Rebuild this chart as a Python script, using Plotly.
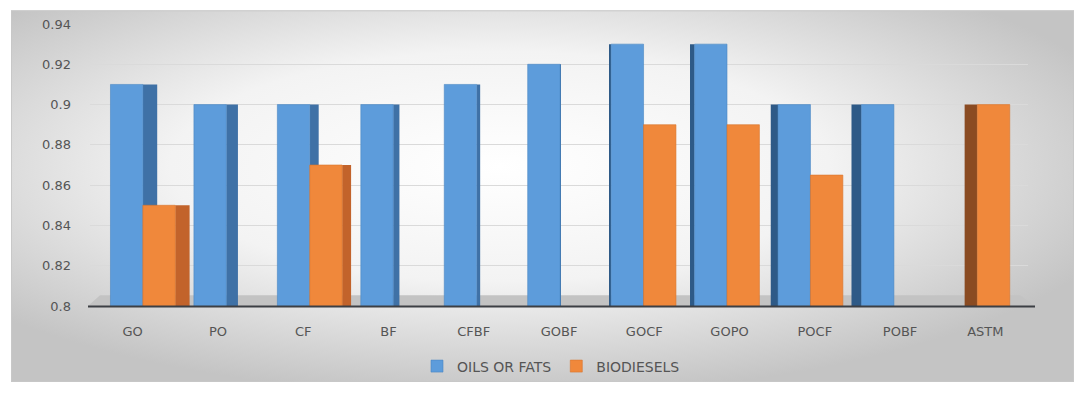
import base64
import plotly.graph_objects as go

categories = ['GO', 'PO', 'CF', 'BF', 'CFBF', 'GOBF', 'GOCF', 'GOPO', 'POCF', 'POBF', 'ASTM']
oils_or_fats = [0.91, 0.90, 0.90, 0.90, 0.91, 0.92, 0.93, 0.93, 0.90, 0.90, None]
biodiesels = [0.85, None, 0.87, None, None, None, 0.89, 0.89, 0.865, None, 0.90]
y_ticks = [0.8, 0.82, 0.84, 0.86, 0.88, 0.9, 0.92, 0.94]
y_tick_labels = ['0.8', '0.82', '0.84', '0.86', '0.88', '0.9', '0.92', '0.94']

# --- pseudo-3D geometry (style only) ---
n = len(categories)
FRONT_W = 0.38
shift = [0.12 - i * 0.0214 for i in range(n)]          # perspective drift
side = [(5.3 - i) * 0.0317 for i in range(n)]           # >0 right face, <0 left face

blue_front_off = [s - FRONT_W for s in shift]
orange_front_off = [s for s in shift]

def side_geom(front_off):
    offs, wids = [], []
    for fo, sd in zip(front_off, side):
        if sd >= 0:
            offs.append(fo + FRONT_W)
            wids.append(max(sd, 0.001))
        else:
            offs.append(fo + sd)
            wids.append(-sd)
    return offs, wids

blue_side_off, blue_side_w = side_geom(blue_front_off)
orange_side_off, orange_side_w = side_geom(orange_front_off)
blue_side_col = ['#3f71a6' if sd >= 0 else '#2e5a87' for sd in side]
orange_side_col = ['#c2632b' if sd >= 0 else '#8a4b22' for sd in side]

fig = go.Figure()
fig.add_trace(go.Bar(x=categories, y=biodiesels, offset=orange_side_off, width=orange_side_w,
                     marker=dict(color=orange_side_col, line=dict(width=0)), showlegend=False,
                     hoverinfo='skip'))
fig.add_trace(go.Bar(x=categories, y=oils_or_fats, offset=blue_side_off, width=blue_side_w,
                     marker=dict(color=blue_side_col, line=dict(width=0)), showlegend=False,
                     hoverinfo='skip'))
fig.add_trace(go.Bar(x=categories, y=oils_or_fats, name='OILS OR FATS',
                     offset=blue_front_off, width=[FRONT_W] * n,
                     marker=dict(color='#5d9cdb', line=dict(width=0.6, color='#4a86c2'))))
fig.add_trace(go.Bar(x=categories, y=biodiesels, name='BIODIESELS',
                     offset=orange_front_off, width=[FRONT_W] * n,
                     marker=dict(color='#f0883b', line=dict(width=0.6, color='#d9752d'))))

# background panel gradient
svg = ('<svg xmlns="http://www.w3.org/2000/svg" width="1063" height="381" preserveAspectRatio="none">'
       '<defs><radialGradient id="g" cx="0.46" cy="0.42" r="0.62">'
       '<stop offset="0" stop-color="#ffffff"/><stop offset="0.5" stop-color="#f3f3f3"/>'
       '<stop offset="1" stop-color="#c4c4c4"/></radialGradient></defs>'
       '<rect x="0" y="0" width="1063" height="381" fill="url(#g)" stroke="#c8c8c8" stroke-width="2"/></svg>')
src = 'data:image/svg+xml;base64,' + base64.b64encode(svg.encode()).decode()

L, R, T, B = 90, 1028, 24, 313
PW, PH = R - L, B - T

def px(x):
    return (x - L) / PW

def py(y):
    return (B - y) / PH

fig.add_layout_image(dict(source=src, xref='paper', yref='paper', x=px(11), y=py(10),
                          sizex=1063 / PW, sizey=381 / PH, sizing='stretch',
                          xanchor='left', yanchor='top', layer='below'))

floor_path = (f'M{px(88)},{py(313)} L{px(1035)},{py(313)} L{px(1020)},{py(302)} '
              f'L{px(100)},{py(302)} Z')
fig.add_shape(type='path', path=floor_path, xref='paper', yref='paper',
              fillcolor='#c3c3c3', line=dict(width=0), layer='below')
fig.add_shape(type='line', xref='paper', yref='paper', x0=px(88), x1=px(1035),
              y0=py(313.5), y1=py(313.5), line=dict(color='#3c3f44', width=2), layer='above')

font_family = 'DejaVu Sans'
fig.update_layout(
    width=1074, height=394,
    margin=dict(l=L, r=1074 - R, t=T, b=394 - B),
    paper_bgcolor='white', plot_bgcolor='rgba(0,0,0,0)',
    barmode='overlay',
    font=dict(family=font_family, size=12, color='#555555'),
    legend=dict(orientation='h', x=px(551), y=py(375), xanchor='center', yanchor='middle',
                bgcolor='rgba(0,0,0,0)', font=dict(size=14, color='#555555'),
                itemwidth=30),
    xaxis=dict(type='category', range=[-0.5, n - 0.5], showgrid=False, showline=False,
               zeroline=False, ticks='', ticklabelstandoff=16,
               tickfont=dict(size=13, color='#555555')),
    yaxis=dict(range=[0.8, 0.94], tickvals=y_ticks, ticktext=y_tick_labels,
               showgrid=True, gridcolor='#dadada', gridwidth=1, zeroline=False,
               showline=False, ticks='', ticklabelstandoff=18,
               tickfont=dict(size=13, color='#555555')),
)

fig.write_html('out.html')
